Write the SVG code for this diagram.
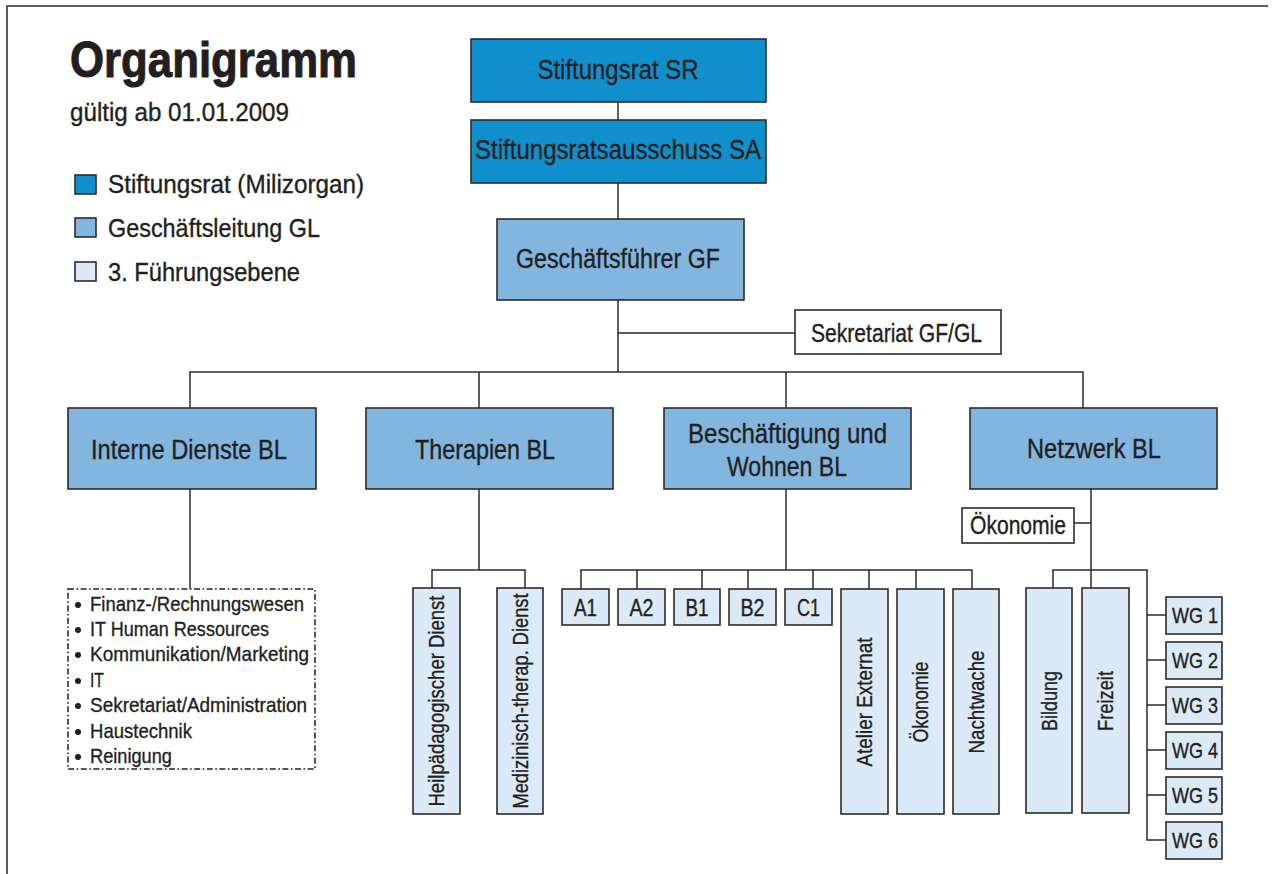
<svg xmlns="http://www.w3.org/2000/svg" width="1274" height="874" viewBox="0 0 1274 874">
<style>
.t{font-family:"Liberation Sans",Arial,sans-serif;fill:#231f20;stroke:#231f20;stroke-width:0.35}
.b{font-weight:bold;stroke-width:1}
.box{stroke:#2b2b2b;stroke-width:1.6}
.sr{fill:#0f90cd}
.gl{fill:#82b6de}
.l3{fill:#dce9f6}
.wh{fill:#ffffff}
.ln{stroke:#2b2b2b;stroke-width:1.5;fill:none}
.dash{fill:#ffffff;stroke:#231f20;stroke-width:1.5;stroke-dasharray:6 2.5 1.6 2.5}
.m{text-anchor:middle}
</style>
<rect x="0" y="0" width="1274" height="874" fill="#ffffff"/>
<g id="frame" class="ln">
<path d="M7 874 V6 H1268"/>
</g>
<g id="header">
<text class="t b" x="70" y="77" font-size="50" textLength="287" lengthAdjust="spacingAndGlyphs">Organigramm</text>
<text class="t" x="70" y="121" font-size="26" textLength="219" lengthAdjust="spacingAndGlyphs">gültig ab 01.01.2009</text>
</g>
<g id="legend">
<rect class="box sr" x="75" y="175" width="21" height="19"/>
<rect class="box gl" x="75" y="218" width="21" height="19"/>
<rect class="box l3" x="75" y="262" width="21" height="19"/>
<text class="t" x="108" y="193" font-size="25" textLength="256" lengthAdjust="spacingAndGlyphs">Stiftungsrat (Milizorgan)</text>
<text class="t" x="108" y="237" font-size="25" textLength="212" lengthAdjust="spacingAndGlyphs">Geschäftsleitung GL</text>
<text class="t" x="108" y="281" font-size="25" textLength="192" lengthAdjust="spacingAndGlyphs">3. Führungsebene</text>
</g>
<g id="connectors" class="ln">
<path d="M618 102 V120 M618 183 V219 M618 300 V372 M618 333 H795"/>
<path d="M190 408 V372 H1083 V408 M479 372 V408 M786 372 V408"/>
<path d="M190 489 V589"/>
<path d="M479 489 V570 M432 588 V570 H525 V588"/>
<path d="M786 489 V570 M581 589 V570 H972 V589 M637 570 V589 M702 570 V589 M748 570 V589 M813 570 V589 M869 570 V589 M916 570 V589"/>
<path d="M1091 489 V588 M1074 523 H1091 M1053 588 V570 H1147 V840 H1166 M1147 615 H1166 M1147 660 H1166 M1147 705 H1166 M1147 750 H1166 M1147 795 H1166"/>
</g>
<g id="n-sr">
<rect class="box sr" x="471" y="39" width="295" height="63"/>
<text class="t m" x="618" y="79" font-size="27" textLength="161" lengthAdjust="spacingAndGlyphs">Stiftungsrat SR</text>
</g>
<g id="n-sa">
<rect class="box sr" x="471" y="120" width="295" height="63"/>
<text class="t m" x="618" y="159" font-size="27" textLength="286" lengthAdjust="spacingAndGlyphs">Stiftungsratsausschuss SA</text>
</g>
<g id="n-gf">
<rect class="box gl" x="497" y="219" width="247" height="81"/>
<text class="t m" x="618" y="268" font-size="27" textLength="204" lengthAdjust="spacingAndGlyphs">Geschäftsführer GF</text>
</g>
<g id="n-sek">
<rect class="box wh" x="795" y="310" width="206" height="44"/>
<text class="t m" x="896.5" y="342" font-size="26" textLength="171" lengthAdjust="spacingAndGlyphs">Sekretariat GF/GL</text>
</g>
<g id="n-interne">
<rect class="box gl" x="68" y="408" width="248" height="81"/>
<text class="t m" x="189" y="459" font-size="27" textLength="196" lengthAdjust="spacingAndGlyphs">Interne Dienste BL</text>
</g>
<g id="n-therapien">
<rect class="box gl" x="366" y="408" width="247" height="81"/>
<text class="t m" x="485" y="459" font-size="27" textLength="140" lengthAdjust="spacingAndGlyphs">Therapien BL</text>
</g>
<g id="n-besch">
<rect class="box gl" x="664" y="408" width="247" height="81"/>
<text class="t m" x="787.5" y="443" font-size="27" textLength="199" lengthAdjust="spacingAndGlyphs">Beschäftigung und</text>
<text class="t m" x="787" y="476" font-size="27" textLength="120" lengthAdjust="spacingAndGlyphs">Wohnen BL</text>
</g>
<g id="n-netzwerk">
<rect class="box gl" x="970" y="408" width="247" height="81"/>
<text class="t m" x="1094" y="458" font-size="27" textLength="134" lengthAdjust="spacingAndGlyphs">Netzwerk BL</text>
</g>
<g id="n-interne-list">
<rect class="dash" x="68" y="589" width="247" height="180"/>
<g fill="#231f20">
<circle cx="78" cy="605" r="3"/>
<circle cx="78" cy="630" r="3"/>
<circle cx="78" cy="655" r="3"/>
<circle cx="78" cy="681" r="3"/>
<circle cx="78" cy="706" r="3"/>
<circle cx="78" cy="732" r="3"/>
<circle cx="78" cy="757" r="3"/>
</g>
<text class="t" x="90" y="611" font-size="21" textLength="214" lengthAdjust="spacingAndGlyphs">Finanz-/Rechnungswesen</text>
<text class="t" x="90" y="636" font-size="21" textLength="179" lengthAdjust="spacingAndGlyphs">IT Human Ressources</text>
<text class="t" x="90" y="661" font-size="21" textLength="219" lengthAdjust="spacingAndGlyphs">Kommunikation/Marketing</text>
<text class="t" x="90" y="687" font-size="21" textLength="14" lengthAdjust="spacingAndGlyphs">IT</text>
<text class="t" x="90" y="712" font-size="21" textLength="217" lengthAdjust="spacingAndGlyphs">Sekretariat/Administration</text>
<text class="t" x="90" y="738" font-size="21" textLength="102" lengthAdjust="spacingAndGlyphs">Haustechnik</text>
<text class="t" x="90" y="763" font-size="21" textLength="82" lengthAdjust="spacingAndGlyphs">Reinigung</text>
</g>
<g id="n-heilpaed">
<rect class="box l3" x="413" y="588" width="47" height="226"/>
<text class="t m" transform="translate(436.5 701) rotate(-90)" x="0" y="7.5" font-size="22" textLength="211" lengthAdjust="spacingAndGlyphs">Heilpädagogischer Dienst</text>
</g>
<g id="n-medizin">
<rect class="box l3" x="497" y="588" width="46" height="226"/>
<text class="t m" transform="translate(520 701) rotate(-90)" x="0" y="7.5" font-size="22" textLength="215" lengthAdjust="spacingAndGlyphs">Medizinisch-therap. Dienst</text>
</g>
<g id="n-a1"><rect class="box l3" x="562" y="589" width="47" height="36"/><text class="t m" x="585.5" y="616" font-size="23" textLength="23" lengthAdjust="spacingAndGlyphs">A1</text></g>
<g id="n-a2"><rect class="box l3" x="618" y="589" width="47" height="36"/><text class="t m" x="641.5" y="616" font-size="23" textLength="24" lengthAdjust="spacingAndGlyphs">A2</text></g>
<g id="n-b1"><rect class="box l3" x="674" y="589" width="46" height="36"/><text class="t m" x="697" y="616" font-size="23" textLength="23" lengthAdjust="spacingAndGlyphs">B1</text></g>
<g id="n-b2"><rect class="box l3" x="729" y="589" width="47" height="36"/><text class="t m" x="752.5" y="616" font-size="23" textLength="24" lengthAdjust="spacingAndGlyphs">B2</text></g>
<g id="n-c1"><rect class="box l3" x="785" y="589" width="47" height="36"/><text class="t m" x="808.5" y="616" font-size="23" textLength="23" lengthAdjust="spacingAndGlyphs">C1</text></g>
<g id="n-atelier">
<rect class="box l3" x="841" y="589" width="47" height="225"/>
<text class="t m" transform="translate(864.5 702) rotate(-90)" x="0" y="7.5" font-size="22" textLength="129" lengthAdjust="spacingAndGlyphs">Atelier Externat</text>
</g>
<g id="n-oekonomie-bw">
<rect class="box l3" x="897" y="589" width="47" height="225"/>
<text class="t m" transform="translate(920.5 702) rotate(-90)" x="0" y="7.5" font-size="22" textLength="81" lengthAdjust="spacingAndGlyphs">Ökonomie</text>
</g>
<g id="n-nachtwache">
<rect class="box l3" x="953" y="589" width="46" height="225"/>
<text class="t m" transform="translate(976 702) rotate(-90)" x="0" y="7.5" font-size="22" textLength="103" lengthAdjust="spacingAndGlyphs">Nachtwache</text>
</g>
<g id="n-oekonomie-nw">
<rect class="box wh" x="962" y="508" width="112" height="35"/>
<text class="t m" x="1018" y="534" font-size="25" textLength="96" lengthAdjust="spacingAndGlyphs">Ökonomie</text>
</g>
<g id="n-bildung">
<rect class="box l3" x="1026" y="588" width="46" height="225"/>
<text class="t m" transform="translate(1049 701) rotate(-90)" x="0" y="7.5" font-size="22" textLength="60" lengthAdjust="spacingAndGlyphs">Bildung</text>
</g>
<g id="n-freizeit">
<rect class="box l3" x="1082" y="588" width="47" height="225"/>
<text class="t m" transform="translate(1105.5 701) rotate(-90)" x="0" y="7.5" font-size="22" textLength="60" lengthAdjust="spacingAndGlyphs">Freizeit</text>
</g>
<g id="n-wg1"><rect class="box l3" x="1166" y="597" width="56" height="37"/><text class="t m" x="1195" y="623" font-size="22" textLength="46" lengthAdjust="spacingAndGlyphs">WG 1</text></g>
<g id="n-wg2"><rect class="box l3" x="1166" y="642" width="56" height="37"/><text class="t m" x="1195" y="668" font-size="22" textLength="46" lengthAdjust="spacingAndGlyphs">WG 2</text></g>
<g id="n-wg3"><rect class="box l3" x="1166" y="687" width="56" height="37"/><text class="t m" x="1195" y="713" font-size="22" textLength="46" lengthAdjust="spacingAndGlyphs">WG 3</text></g>
<g id="n-wg4"><rect class="box l3" x="1166" y="732" width="56" height="37"/><text class="t m" x="1195" y="758" font-size="22" textLength="46" lengthAdjust="spacingAndGlyphs">WG 4</text></g>
<g id="n-wg5"><rect class="box l3" x="1166" y="777" width="56" height="37"/><text class="t m" x="1195" y="803" font-size="22" textLength="46" lengthAdjust="spacingAndGlyphs">WG 5</text></g>
<g id="n-wg6"><rect class="box l3" x="1166" y="822" width="56" height="37"/><text class="t m" x="1195" y="848" font-size="22" textLength="46" lengthAdjust="spacingAndGlyphs">WG 6</text></g>
</svg>
